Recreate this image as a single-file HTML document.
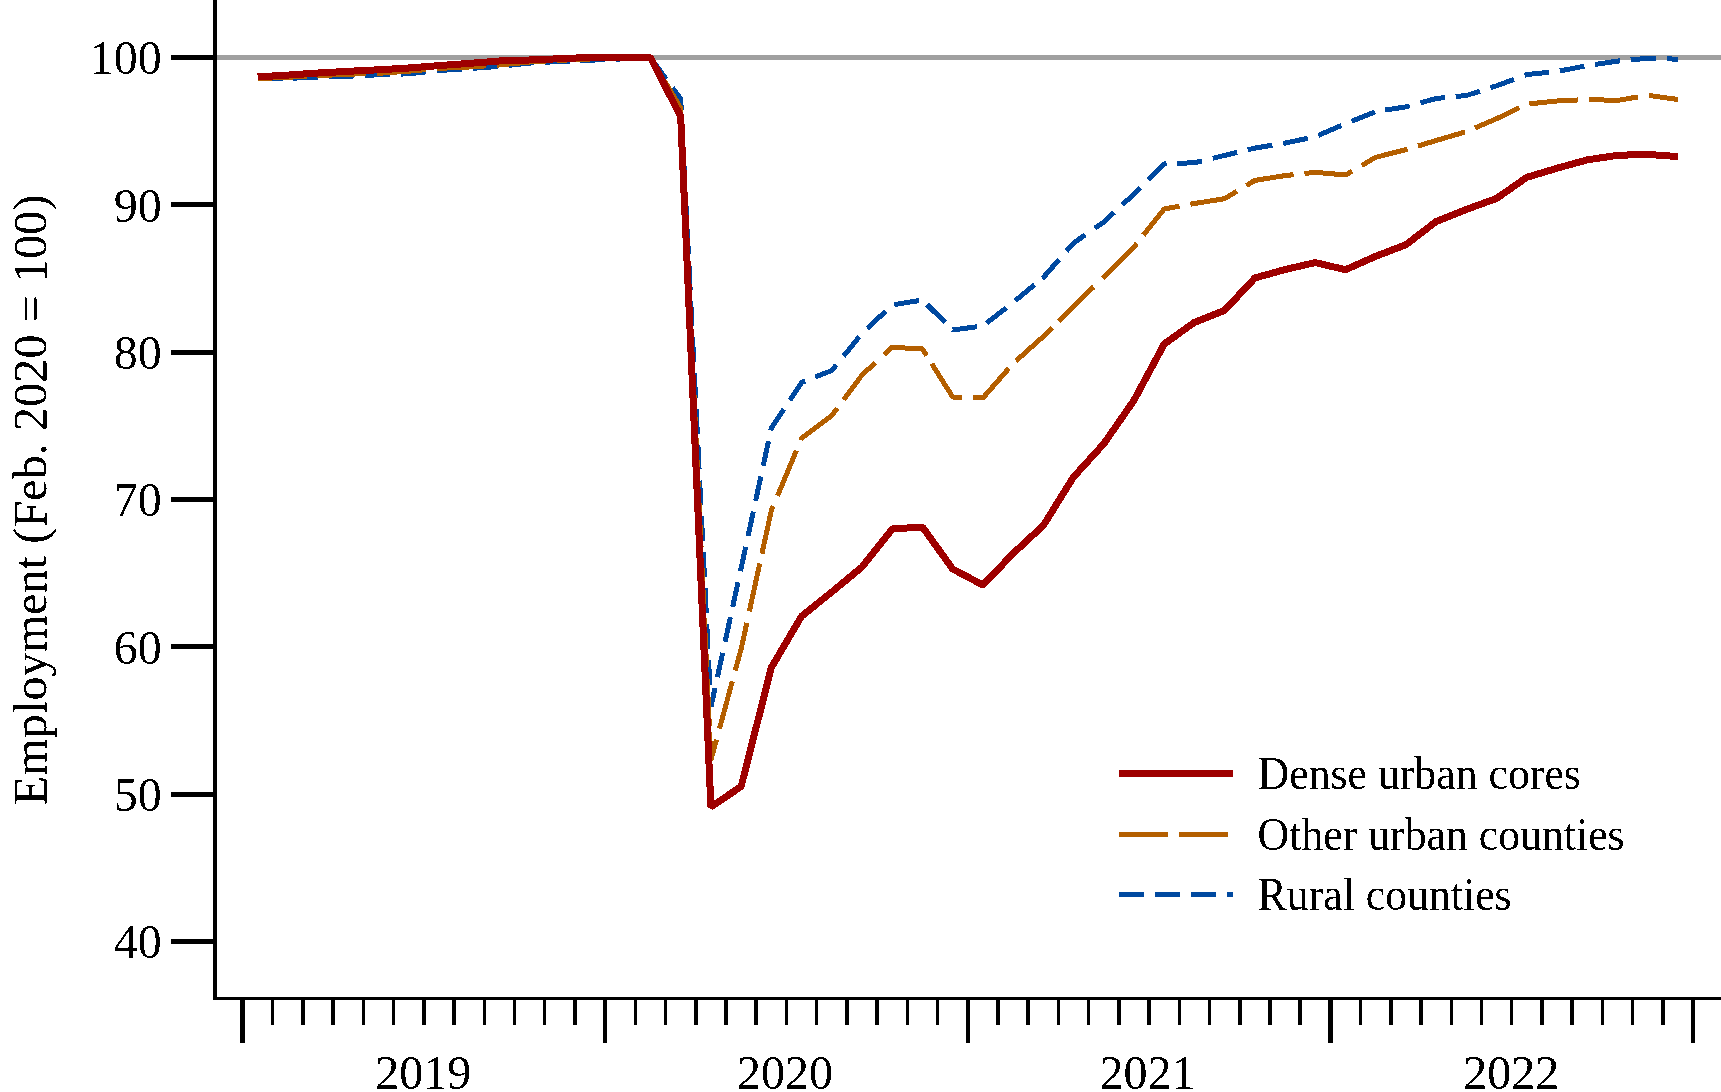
<!DOCTYPE html>
<html><head><meta charset="utf-8"><title>Employment by county type</title>
<style>
html,body{margin:0;padding:0;background:#fff;}
body{width:1721px;height:1092px;overflow:hidden;}
svg{display:block;}
text{font-family:"Liberation Serif",serif;fill:#000;}
</style></head><body>
<svg width="1721" height="1092" viewBox="0 0 1721 1092" shape-rendering="crispEdges">
<rect width="1721" height="1092" fill="#fff"/>
<defs><filter id="crisp" x="-5%" y="-20%" width="110%" height="140%"><feComponentTransfer><feFuncA type="discrete" tableValues="0 1"/></feComponentTransfer></filter></defs>
<line x1="217" y1="57.5" x2="1721" y2="57.5" stroke="#a0a0a0" stroke-width="5"/>
<g fill="none" stroke="#0049a0" stroke-width="5" stroke-dasharray="25 11" stroke-linejoin="bevel" stroke-linecap="butt">
<polyline points="257.61,78.80 287.50,78.40"/>
<polyline points="287.50,78.40 287.83,78.40 318.05,77.10 323.30,76.94" stroke-dashoffset="30.50"/>
<polyline points="323.30,76.94 348.27,76.20 359.50,75.68" stroke-dashoffset="30.50"/>
<polyline points="359.50,75.68 378.49,74.80 395.50,74.24" stroke-dashoffset="30.50"/>
<polyline points="395.50,74.24 408.71,73.80 431.50,71.31" stroke-dashoffset="30.50"/>
<polyline points="431.50,71.31 438.93,70.50 467.50,68.70" stroke-dashoffset="30.50"/>
<polyline points="467.50,68.70 469.15,68.60 499.37,66.40 503.20,65.98" stroke-dashoffset="30.50"/>
<polyline points="503.20,65.98 529.59,63.10 539.00,62.60" stroke-dashoffset="30.50"/>
<polyline points="539.00,62.60 559.81,61.50 574.80,60.86" stroke-dashoffset="30.50"/>
<polyline points="574.80,60.86 590.03,60.20 620.25,59.00 650.47,57.50 669.23,83.26" stroke-dashoffset="30.50"/>
<polyline points="669.23,83.26 680.69,99.00 710.36,696.01" stroke-dashoffset="30.50"/>
<polyline points="710.36,696.01 710.91,707.00 716.22,682.57" stroke-dashoffset="30.50"/>
<polyline points="716.22,682.57 723.95,647.03" stroke-dashoffset="30.50"/>
<polyline points="723.95,647.03 731.53,612.16" stroke-dashoffset="30.50"/>
<polyline points="731.53,612.16 739.26,576.62" stroke-dashoffset="30.50"/>
<polyline points="739.26,576.62 741.13,568.00 771.35,428.00 801.57,382.50 810.04,379.14" stroke-dashoffset="30.50"/>
<polyline points="810.04,379.14 831.79,370.50 840.10,360.33" stroke-dashoffset="30.50"/>
<polyline points="840.10,360.33 862.01,333.50 863.40,332.19" stroke-dashoffset="30.50"/>
<polyline points="863.40,332.19 889.74,307.35" stroke-dashoffset="30.50"/>
<polyline points="889.74,307.35 892.23,305.00 922.45,300.00 923.27,300.82" stroke-dashoffset="30.50"/>
<polyline points="923.27,300.82 948.62,325.98" stroke-dashoffset="30.50"/>
<polyline points="948.62,325.98 952.67,330.00 982.11,326.10" stroke-dashoffset="30.50"/>
<polyline points="982.11,326.10 982.89,326.00 1011.01,304.14" stroke-dashoffset="30.50"/>
<polyline points="1011.01,304.14 1013.11,302.50 1038.10,281.82" stroke-dashoffset="30.50"/>
<polyline points="1038.10,281.82 1043.33,277.50 1062.89,255.17" stroke-dashoffset="30.50"/>
<polyline points="1062.89,255.17 1073.55,243.00 1090.39,231.30" stroke-dashoffset="30.50"/>
<polyline points="1090.39,231.30 1103.77,222.00 1118.27,208.56" stroke-dashoffset="30.50"/>
<polyline points="1118.27,208.56 1133.99,194.00 1144.23,183.83" stroke-dashoffset="30.50"/>
<polyline points="1144.23,183.83 1164.21,164.00 1171.66,163.68" stroke-dashoffset="30.50"/>
<polyline points="1171.66,163.68 1194.43,162.70 1207.49,159.55" stroke-dashoffset="30.50"/>
<polyline points="1207.49,159.55 1224.65,155.40 1242.47,151.09" stroke-dashoffset="30.50"/>
<polyline points="1242.47,151.09 1254.87,148.10 1285.09,143.10 1313.24,137.14" stroke-dashoffset="30.50"/>
<polyline points="1313.24,137.14 1315.31,136.70 1345.53,123.80 1346.71,123.32" stroke-dashoffset="30.50"/>
<polyline points="1346.71,123.32 1375.75,111.50 1379.73,110.89" stroke-dashoffset="30.50"/>
<polyline points="1379.73,110.89 1405.97,106.90 1415.18,104.34" stroke-dashoffset="30.50"/>
<polyline points="1415.18,104.34 1436.19,98.50 1450.22,97.11" stroke-dashoffset="30.50"/>
<polyline points="1450.22,97.11 1466.41,95.50 1485.23,89.46" stroke-dashoffset="30.50"/>
<polyline points="1485.23,89.46 1496.63,85.80 1519.35,77.30" stroke-dashoffset="30.50"/>
<polyline points="1519.35,77.30 1526.85,74.50 1554.36,71.77" stroke-dashoffset="30.50"/>
<polyline points="1554.36,71.77 1557.07,71.50 1587.29,65.60 1589.59,65.26" stroke-dashoffset="30.50"/>
<polyline points="1589.59,65.26 1617.51,61.10 1625.18,60.39" stroke-dashoffset="30.50"/>
<polyline points="1625.18,60.39 1647.73,58.30 1661.49,58.71" stroke-dashoffset="30.50"/>
<polyline points="1661.49,58.71 1677.95,59.20" stroke-dashoffset="30.50"/>
</g>
<g fill="none" stroke="#b45f00" stroke-width="5" stroke-dasharray="49 11.3" stroke-linejoin="bevel" stroke-linecap="butt">
<polyline points="257.61,78.60 287.83,77.30 311.60,76.04"/>
<polyline points="311.60,76.04 318.05,75.70 348.27,74.20 371.40,73.51" stroke-dashoffset="54.65"/>
<polyline points="371.40,73.51 378.49,73.30 408.71,71.20 431.50,69.09" stroke-dashoffset="54.65"/>
<polyline points="431.50,69.09 438.93,68.40 469.15,67.00 491.60,65.51" stroke-dashoffset="54.65"/>
<polyline points="491.60,65.51 499.37,65.00 529.59,62.00 551.50,60.77" stroke-dashoffset="54.65"/>
<polyline points="551.50,60.77 559.81,60.30 590.03,59.00 620.25,58.30 650.47,57.50 680.69,108.00 709.36,726.54" stroke-dashoffset="54.65"/>
<polyline points="709.36,726.54 710.91,760.00 717.98,734.04" stroke-dashoffset="54.65"/>
<polyline points="717.98,734.04 733.79,675.96" stroke-dashoffset="54.65"/>
<polyline points="733.79,675.96 741.13,649.00 748.13,616.92" stroke-dashoffset="54.65"/>
<polyline points="748.13,616.92 760.71,559.26" stroke-dashoffset="54.65"/>
<polyline points="760.71,559.26 771.35,510.50 801.57,438.30 831.79,415.50 840.24,404.18" stroke-dashoffset="54.65"/>
<polyline points="840.24,404.18 862.01,375.00 879.94,358.56" stroke-dashoffset="54.65"/>
<polyline points="879.94,358.56 892.23,347.30 922.45,349.00 928.68,358.90" stroke-dashoffset="54.65"/>
<polyline points="928.68,358.90 952.67,397.00 967.55,397.49" stroke-dashoffset="54.65"/>
<polyline points="967.55,397.49 982.89,398.00 1011.88,364.90" stroke-dashoffset="54.65"/>
<polyline points="1011.88,364.90 1013.11,363.50 1043.33,336.50 1054.81,325.11" stroke-dashoffset="54.65"/>
<polyline points="1054.81,325.11 1073.55,306.50 1098.43,282.21" stroke-dashoffset="54.65"/>
<polyline points="1098.43,282.21 1103.77,277.00 1133.99,247.00 1139.92,239.54" stroke-dashoffset="54.65"/>
<polyline points="1139.92,239.54 1164.21,209.00 1184.86,205.24" stroke-dashoffset="54.65"/>
<polyline points="1184.86,205.24 1194.43,203.50 1224.65,198.70 1241.60,188.43" stroke-dashoffset="54.65"/>
<polyline points="1241.60,188.43 1254.87,180.40 1285.09,175.60 1298.79,174.10" stroke-dashoffset="54.65"/>
<polyline points="1298.79,174.10 1315.31,172.30 1345.53,175.00 1356.93,168.33" stroke-dashoffset="54.65"/>
<polyline points="1356.93,168.33 1375.75,157.30 1405.97,149.60 1412.62,147.60" stroke-dashoffset="54.65"/>
<polyline points="1412.62,147.60 1436.19,140.50 1466.41,131.60 1469.75,130.18" stroke-dashoffset="54.65"/>
<polyline points="1469.75,130.18 1496.63,118.70 1524.08,105.44" stroke-dashoffset="54.65"/>
<polyline points="1524.08,105.44 1526.85,104.10 1557.07,101.00 1583.51,99.69" stroke-dashoffset="54.65"/>
<polyline points="1583.51,99.69 1587.29,99.50 1617.51,100.40 1643.39,96.03" stroke-dashoffset="54.65"/>
<polyline points="1643.39,96.03 1647.73,95.30 1677.95,99.50" stroke-dashoffset="54.65"/>
</g>
<polyline points="257.61,76.90 287.83,75.10 318.05,73.00 348.27,71.30 378.49,69.80 408.71,68.00 438.93,65.60 469.15,63.40 499.37,61.00 529.59,60.00 559.81,58.70 590.03,57.40 620.25,57.40 650.47,57.50 680.69,116.50 710.91,807.00 741.13,786.50 771.35,667.50 801.57,616.20 831.79,592.00 862.01,567.00 892.23,529.00 922.45,527.00 952.67,569.00 982.89,585.00 1013.11,553.50 1043.33,525.40 1073.55,477.00 1103.77,443.80 1133.99,400.30 1164.21,344.00 1194.43,322.40 1224.65,310.30 1254.87,278.00 1285.09,269.50 1315.31,262.60 1345.53,269.70 1375.75,256.30 1405.97,244.70 1436.19,221.50 1466.41,209.40 1496.63,198.40 1526.85,177.30 1557.07,168.20 1587.29,159.90 1617.51,155.30 1647.73,154.40 1677.95,156.60" fill="none" stroke="#9e0000" stroke-width="7" stroke-linejoin="bevel" stroke-linecap="butt"/>
<rect x="213" y="0" width="4" height="1000" fill="#000"/>
<rect x="213" y="997" width="1508" height="3" fill="#000"/>
<rect x="171" y="938.98" width="42" height="5" fill="#000"/>
<rect x="171" y="791.65" width="42" height="5" fill="#000"/>
<rect x="171" y="644.32" width="42" height="5" fill="#000"/>
<rect x="171" y="496.99" width="42" height="5" fill="#000"/>
<rect x="171" y="349.66" width="42" height="5" fill="#000"/>
<rect x="171" y="202.33" width="42" height="5" fill="#000"/>
<rect x="171" y="55.00" width="42" height="5" fill="#000"/>
<rect x="240.25" y="1000" width="4.5" height="43" fill="#000"/>
<rect x="270.97" y="1000" width="3.5" height="25" fill="#000"/>
<rect x="301.19" y="1000" width="3.5" height="25" fill="#000"/>
<rect x="331.41" y="1000" width="3.5" height="25" fill="#000"/>
<rect x="361.63" y="1000" width="3.5" height="25" fill="#000"/>
<rect x="391.85" y="1000" width="3.5" height="25" fill="#000"/>
<rect x="422.07" y="1000" width="3.5" height="25" fill="#000"/>
<rect x="452.29" y="1000" width="3.5" height="25" fill="#000"/>
<rect x="482.51" y="1000" width="3.5" height="25" fill="#000"/>
<rect x="512.73" y="1000" width="3.5" height="25" fill="#000"/>
<rect x="542.95" y="1000" width="3.5" height="25" fill="#000"/>
<rect x="573.17" y="1000" width="3.5" height="25" fill="#000"/>
<rect x="602.89" y="1000" width="4.5" height="43" fill="#000"/>
<rect x="633.61" y="1000" width="3.5" height="25" fill="#000"/>
<rect x="663.83" y="1000" width="3.5" height="25" fill="#000"/>
<rect x="694.05" y="1000" width="3.5" height="25" fill="#000"/>
<rect x="724.27" y="1000" width="3.5" height="25" fill="#000"/>
<rect x="754.49" y="1000" width="3.5" height="25" fill="#000"/>
<rect x="784.71" y="1000" width="3.5" height="25" fill="#000"/>
<rect x="814.93" y="1000" width="3.5" height="25" fill="#000"/>
<rect x="845.15" y="1000" width="3.5" height="25" fill="#000"/>
<rect x="875.37" y="1000" width="3.5" height="25" fill="#000"/>
<rect x="905.59" y="1000" width="3.5" height="25" fill="#000"/>
<rect x="935.81" y="1000" width="3.5" height="25" fill="#000"/>
<rect x="965.53" y="1000" width="4.5" height="43" fill="#000"/>
<rect x="996.25" y="1000" width="3.5" height="25" fill="#000"/>
<rect x="1026.47" y="1000" width="3.5" height="25" fill="#000"/>
<rect x="1056.69" y="1000" width="3.5" height="25" fill="#000"/>
<rect x="1086.91" y="1000" width="3.5" height="25" fill="#000"/>
<rect x="1117.13" y="1000" width="3.5" height="25" fill="#000"/>
<rect x="1147.35" y="1000" width="3.5" height="25" fill="#000"/>
<rect x="1177.57" y="1000" width="3.5" height="25" fill="#000"/>
<rect x="1207.79" y="1000" width="3.5" height="25" fill="#000"/>
<rect x="1238.01" y="1000" width="3.5" height="25" fill="#000"/>
<rect x="1268.23" y="1000" width="3.5" height="25" fill="#000"/>
<rect x="1298.45" y="1000" width="3.5" height="25" fill="#000"/>
<rect x="1328.17" y="1000" width="4.5" height="43" fill="#000"/>
<rect x="1358.89" y="1000" width="3.5" height="25" fill="#000"/>
<rect x="1389.11" y="1000" width="3.5" height="25" fill="#000"/>
<rect x="1419.33" y="1000" width="3.5" height="25" fill="#000"/>
<rect x="1449.55" y="1000" width="3.5" height="25" fill="#000"/>
<rect x="1479.77" y="1000" width="3.5" height="25" fill="#000"/>
<rect x="1509.99" y="1000" width="3.5" height="25" fill="#000"/>
<rect x="1540.21" y="1000" width="3.5" height="25" fill="#000"/>
<rect x="1570.43" y="1000" width="3.5" height="25" fill="#000"/>
<rect x="1600.65" y="1000" width="3.5" height="25" fill="#000"/>
<rect x="1630.87" y="1000" width="3.5" height="25" fill="#000"/>
<rect x="1661.09" y="1000" width="3.5" height="25" fill="#000"/>
<rect x="1690.81" y="1000" width="4.5" height="43" fill="#000"/>
<line x1="1118.9" y1="773.5" x2="1233.1" y2="773.5" stroke="#9e0000" stroke-width="7"/>
<line x1="1118.9" y1="834.5" x2="1233.1" y2="834.5" stroke="#b45f00" stroke-width="5" stroke-dasharray="49.1 10.9"/>
<line x1="1118.9" y1="894.5" x2="1233.1" y2="894.5" stroke="#0049a0" stroke-width="5" stroke-dasharray="25.1 10.9"/>
<g filter="url(#crisp)">
<text x="161.8" y="957.58" text-anchor="end" font-size="48">40</text>
<text x="161.8" y="811.25" text-anchor="end" font-size="48">50</text>
<text x="161.8" y="663.92" text-anchor="end" font-size="48">60</text>
<text x="161.8" y="515.59" text-anchor="end" font-size="48">70</text>
<text x="161.8" y="369.26" text-anchor="end" font-size="48">80</text>
<text x="161.8" y="221.93" text-anchor="end" font-size="48">90</text>
<text x="161.8" y="73.60" text-anchor="end" font-size="48">100</text>
<text x="423.32" y="1089" text-anchor="middle" font-size="48">2019</text>
<text x="784.96" y="1089" text-anchor="middle" font-size="48">2020</text>
<text x="1147.60" y="1089" text-anchor="middle" font-size="48">2021</text>
<text x="1511.14" y="1089" text-anchor="middle" font-size="48">2022</text>
<text transform="translate(46.5,805.4) rotate(-90)" font-size="48.3">Employment (Feb. 2020 = 100)</text>
<text transform="translate(1257.6,789) scale(0.96,1)" font-size="45.6">Dense urban cores</text>
<text transform="translate(1257.6,850.3) scale(0.96,1)" font-size="45.6">Other urban counties</text>
<text transform="translate(1257.6,910.1) scale(0.96,1)" font-size="45.6">Rural counties</text>
</g>
</svg>
</body></html>
